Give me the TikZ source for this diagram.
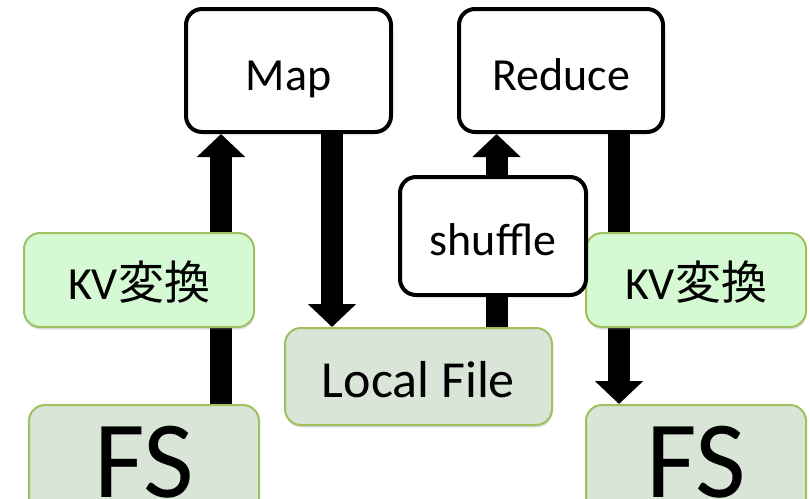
\documentclass[tikz,border=0pt]{standalone}
\usepackage{fontspec}
\setmainfont{Carlito}
\newfontfamily\jpfont{Noto Sans CJK JP}
\usetikzlibrary{arrows.meta, shadows}
\definecolor{kvgreen}{RGB}{212,249,211}
\definecolor{filegreen}{RGB}{216,229,215}
\definecolor{edgegreen}{RGB}{160,192,95}

\begin{document}
\begin{tikzpicture}[
    x=1pt, y=-1pt,
    proc/.style={draw=black, line width=4pt, rounded corners=16pt, fill=white, inner sep=0pt,
                 font=\fontsize{46}{50}\selectfont, text height=50pt, text depth=11pt},
    kvbox/.style={draw=edgegreen, line width=2pt, rounded corners=16pt, fill=kvgreen, inner sep=0pt,
                  drop shadow={shadow xshift=0.5pt, shadow yshift=-2.5pt, opacity=0.25},
                  font=\fontsize{46}{50}\selectfont, text height=50pt, text depth=11pt},
    store/.style={kvbox, fill=filegreen},
    flow/.style={line width=22pt, -{Triangle[width=47pt, length=23pt]}}
  ]
  \useasboundingbox (0,0) rectangle (810,498);

  % Nodes
  \node[proc, minimum width=205pt, minimum height=123pt] (map) at (288.5,70.5) {Map};
  \node[proc, minimum width=204pt, minimum height=123pt] (reduce) at (561,70.5) {Reduce};
  \node[store, minimum width=267pt, minimum height=97pt, font=\fontsize{52}{56}\selectfont,
        text height=54pt, text depth=13pt] (local) at (418.5,376.5) {Local File};
  \node[store, minimum width=230pt, minimum height=130pt, font=\fontsize{110}{120}\selectfont,
        text height=80pt, text depth=25pt] (fsL) at (144,470) {FS};
  \node[store, minimum width=220pt, minimum height=130pt, font=\fontsize{110}{120}\selectfont,
        text height=80pt, text depth=25pt] (fsR) at (696,470) {FS};

  % Arrows
  \draw[flow] ([xshift=77pt]fsL.north) -- ([xshift=-67.5pt]map.south);
  \draw[flow] ([xshift=43.5pt]map.south) -- ([xshift=-86.5pt]local.north);
  \draw[flow] ([xshift=78pt]local.north) -- ([xshift=-64.5pt]reduce.south);
  \draw[flow] ([xshift=58pt]reduce.south) -- ([xshift=-77pt]fsR.north);

  % Boxes over the arrows
  \node[kvbox, minimum width=230pt, minimum height=94pt] (kvL) at (139,280) {KV{\jpfont 変換}};
  \node[kvbox, minimum width=220pt, minimum height=94pt] (kvR) at (696,280) {KV{\jpfont 変換}};
  \node[proc, minimum width=186pt, minimum height=118pt] (shuffle) at (493,236) {shuffle};
\end{tikzpicture}
\end{document}
